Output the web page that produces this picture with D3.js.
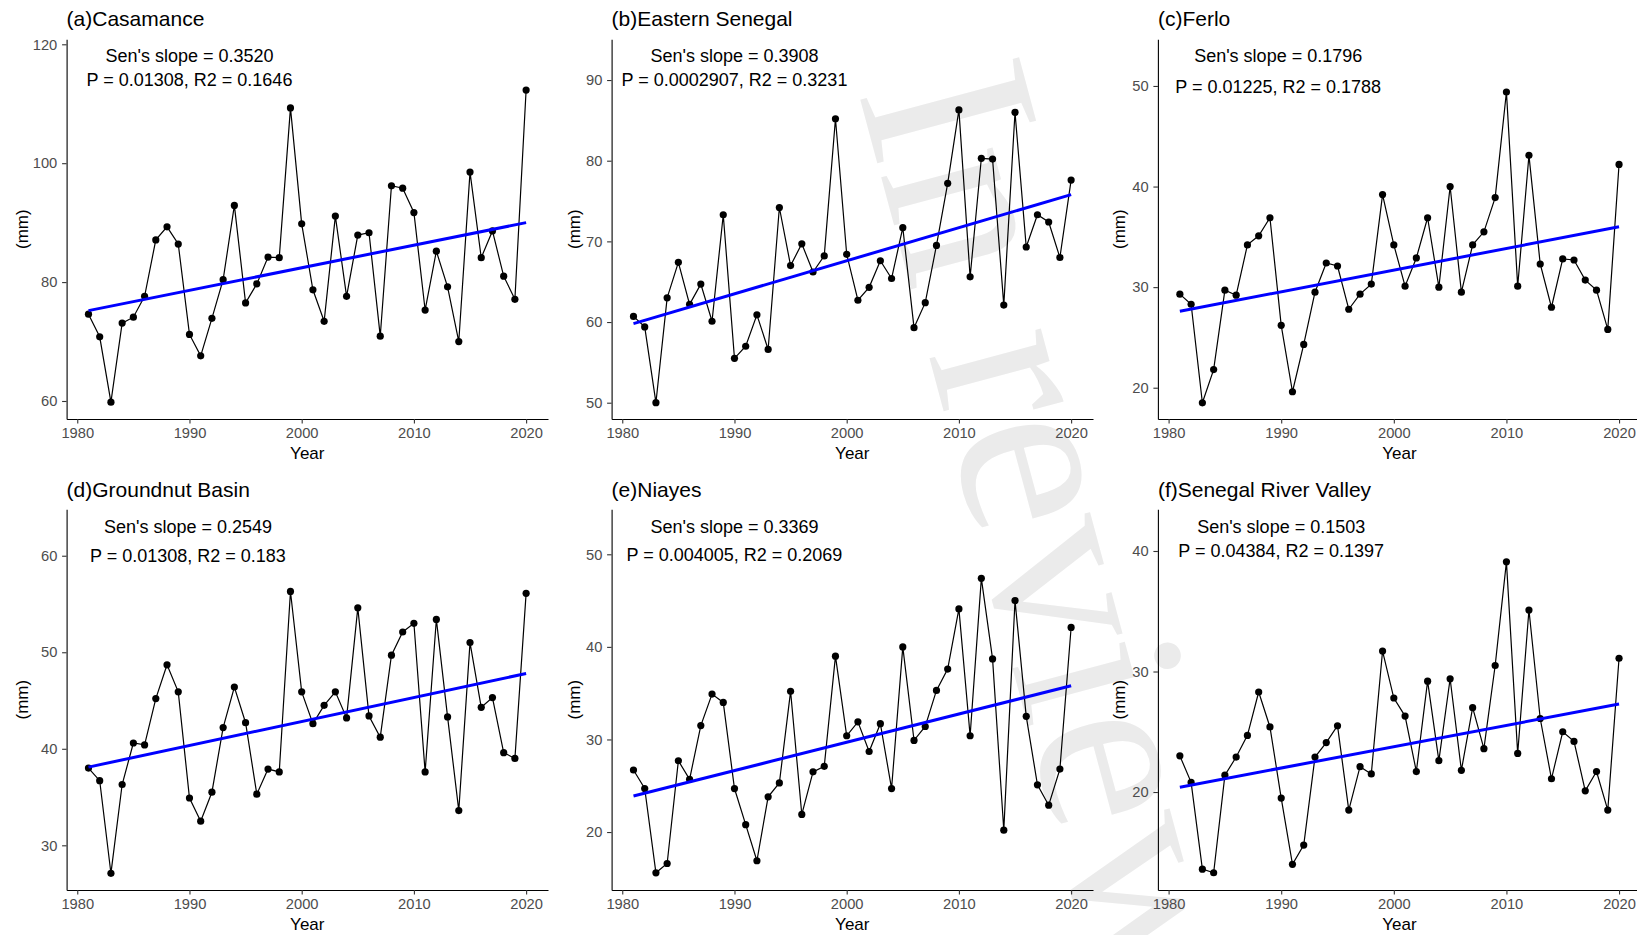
<!DOCTYPE html>
<html>
<head>
<meta charset="utf-8">
<script src="https://cdn.jsdelivr.net/npm/d3@7/dist/d3.min.js"></script>
<style>
  body { margin: 0; background: #fff; }
  text { font-family: "Liberation Sans", Arial, sans-serif; }
</style>
</head>
<body>
<script>
var years = [1981, 1982, 1983, 1984, 1985, 1986, 1987, 1988, 1989, 1990,
             1991, 1992, 1993, 1994, 1995, 1996, 1997, 1998, 1999, 2000,
             2001, 2002, 2003, 2004, 2005, 2006, 2007, 2008, 2009, 2010,
             2011, 2012, 2013, 2014, 2015, 2016, 2017, 2018, 2019, 2020];

var titles = ["(a)Casamance", "(b)Eastern Senegal", "(c)Ferlo",
              "(d)Groundnut Basin", "(e)Niayes", "(f)Senegal River Valley"];

var slopeLabels = ["Sen's slope = 0.3520", "Sen's slope = 0.3908", "Sen's slope = 0.1796",
                   "Sen's slope = 0.2549", "Sen's slope = 0.3369", "Sen's slope = 0.1503"];

var statLabels = ["P = 0.01308, R2 = 0.1646", "P = 0.0002907, R2 = 0.3231", "P = 0.01225, R2 = 0.1788",
                  "P = 0.01308, R2 = 0.183", "P = 0.004005, R2 = 0.2069", "P = 0.04384, R2 = 0.1397"];

var casamance = [74.6, 70.8, 59.8, 73.1, 74.1, 77.6, 87.1, 89.3, 86.4, 71.2,
                 67.6, 73.9, 80.4, 92.9, 76.5, 79.7, 84.2, 84.1, 109.3, 89.8,
                 78.7, 73.4, 91.1, 77.6, 87.9, 88.3, 70.9, 96.2, 95.8, 91.7,
                 75.3, 85.2, 79.2, 70.0, 98.5, 84.1, 88.6, 81.0, 77.1, 112.3];

var easternSenegal = [60.7, 59.4, 50.0, 63.0, 67.4, 62.2, 64.7, 60.1, 73.3, 55.5,
                      57.0, 60.9, 56.6, 74.2, 67.0, 69.7, 66.2, 68.2, 85.2, 68.4,
                      62.7, 64.3, 67.6, 65.4, 71.7, 59.3, 62.4, 69.5, 77.2, 86.3,
                      65.6, 80.3, 80.2, 62.1, 86.0, 69.3, 73.3, 72.4, 68.0, 77.6];

var ferlo = [29.3, 28.3, 18.5, 21.8, 29.7, 29.2, 34.2, 35.1, 36.9, 26.2,
             19.6, 24.3, 29.5, 32.4, 32.1, 27.8, 29.3, 30.3, 39.2, 34.2,
             30.1, 32.9, 36.9, 30.0, 40.0, 29.5, 34.2, 35.5, 38.9, 49.4,
             30.1, 43.1, 32.3, 28.0, 32.8, 32.7, 30.7, 29.7, 25.8, 42.2];

var groundnutBasin = [38.0, 36.7, 27.1, 36.3, 40.6, 40.4, 45.2, 48.7, 45.9, 34.9,
                      32.5, 35.5, 42.2, 46.4, 42.7, 35.3, 37.9, 37.6, 56.3, 45.9,
                      42.6, 44.5, 45.9, 43.2, 54.6, 43.4, 41.2, 49.7, 52.1, 53.0,
                      37.6, 53.4, 43.3, 33.6, 51.0, 44.3, 45.3, 39.6, 39.0, 56.1];

var niayes = [26.7, 24.7, 15.6, 16.6, 27.7, 25.7, 31.5, 34.9, 34.0, 24.7,
              20.8, 16.9, 23.8, 25.3, 35.2, 21.9, 26.5, 27.1, 39.0, 30.4,
              31.9, 28.7, 31.7, 24.7, 40.0, 29.9, 31.4, 35.3, 37.6, 44.1,
              30.4, 47.4, 38.7, 20.2, 45.0, 32.5, 25.1, 22.9, 26.8, 42.1];

var senegalRiverValley = [23.0, 20.8, 13.6, 13.3, 21.4, 22.9, 24.7, 28.3, 25.4, 19.5,
                          14.0, 15.6, 22.9, 24.1, 25.5, 18.5, 22.1, 21.5, 31.7, 27.8,
                          26.3, 21.7, 29.2, 22.6, 29.4, 21.8, 27.0, 23.6, 30.5, 39.1,
                          23.2, 35.1, 26.1, 21.1, 25.0, 24.2, 20.1, 21.7, 18.5, 31.1];

var series = [casamance, easternSenegal, ferlo, groundnutBasin, niayes, senegalRiverValley];

// fitted trend values at 1981 and 2020
var trendStart = [75.2, 59.8, 27.6, 38.1, 23.9, 20.4];
var trendEnd = [90.0, 75.8, 36.0, 47.8, 35.8, 27.3];

var yDomains = [[56.97, 120.84], [47.98, 95.05], [16.89, 54.64],
                [25.37, 64.81], [13.74, 54.86], [11.87, 43.46]];
var yTicks = [[60, 80, 100, 120], [50, 60, 70, 80, 90], [20, 30, 40, 50],
              [30, 40, 50, 60], [20, 30, 40, 50], [20, 30, 40]];
var xTicks = [1980, 1990, 2000, 2010, 2020];


var WIDTH = 1637,
    HEIGHT = 935;

var colLeft = [66.6, 611.6, 1157.9],
    colRight = [548, 1093, 1641],
    rowTop = [39.3, 509.3],
    rowBottom = [419, 890],
    titleY = [25.7, 496.5],
    ylabX = [22, 574, 1119.3];

var noteY1 = [22.7, 22.7, 22.7, 23.4, 23.4, 23.4],
    noteY2 = [46.7, 46.7, 53.4, 52.4, 51.7, 47.4],
    noteShift = [0, 0, -3, -1.5, 0, 0];

var svg = d3.select("body").append("svg")
      .attr("width", WIDTH)
      .attr("height", HEIGHT);

// watermark sits behind everything
svg.append("text")
  .attr("transform", "translate(858,91) rotate(75)")
  .style("font-family", "'Liberation Serif', 'Times New Roman', serif")
  .style("font-size", "251px")
  .style("fill", "#ebebeb")
  .text("In review");

series.forEach(function(values, i) {
  var col = i % 3,
      row = Math.floor(i / 3);

  var x = d3.scaleLinear()
      .domain([1979.05, 2021.95])
      .range([colLeft[col], colRight[col]]);

  var y = d3.scaleLinear()
      .domain(yDomains[i])
      .range([rowBottom[row], rowTop[row]]);

  var g = svg.append("g");

  var xAxis = g.append("g")
      .attr("transform", "translate(0," + rowBottom[row] + ")")
      .call(d3.axisBottom(x).tickValues(xTicks).tickFormat(d3.format("d"))
        .tickSize(4.5).tickSizeOuter(0).tickPadding(4.5));

  var yAxis = g.append("g")
      .attr("transform", "translate(" + colLeft[col] + ",0)")
      .call(d3.axisLeft(y).tickValues(yTicks[i])
        .tickSize(4.5).tickSizeOuter(0).tickPadding(4.8));

  [xAxis, yAxis].forEach(function(a) {
    a.select(".domain").attr("stroke", "#000").attr("stroke-width", 1.1);
    a.selectAll(".tick line").attr("stroke", "#333").attr("stroke-width", 1.1);
    a.selectAll(".tick text")
      .attr("fill", "#4d4d4d")
      .style("font-size", "14.7px")
      .style("font-family", "'Liberation Sans', Arial, sans-serif");
  });

  var pts = years.map(function(yr, k) { return [yr, values[k]]; });

  g.append("path")
    .datum(pts)
    .attr("fill", "none")
    .attr("stroke", "#000")
    .attr("stroke-width", 1.2)
    .attr("d", d3.line()
      .x(function(d) { return x(d[0]); })
      .y(function(d) { return y(d[1]); }));

  g.selectAll(".pt").data(pts).enter().append("circle")
    .attr("class", "pt")
    .attr("cx", function(d) { return x(d[0]); })
    .attr("cy", function(d) { return y(d[1]); })
    .attr("r", 3.6)
    .style("fill", "#000");

  g.append("line")
    .attr("x1", x(years[0]))
    .attr("y1", y(trendStart[i]))
    .attr("x2", x(years[years.length - 1]))
    .attr("y2", y(trendEnd[i]))
    .attr("stroke", "#0000ff")
    .attr("stroke-width", 3);

  g.append("text")
    .attr("x", colLeft[col])
    .attr("y", titleY[row])
    .style("font-size", "21px")
    .text(titles[i]);

  g.append("text")
    .attr("x", x(1990) + noteShift[i])
    .attr("y", rowTop[row] + noteY1[i])
    .attr("text-anchor", "middle")
    .style("font-size", "18px")
    .text(slopeLabels[i]);

  g.append("text")
    .attr("x", x(1990) + noteShift[i])
    .attr("y", rowTop[row] + noteY2[i])
    .attr("text-anchor", "middle")
    .style("font-size", "18px")
    .text(statLabels[i]);

  g.append("text")
    .attr("x", (colLeft[col] + colRight[col]) / 2)
    .attr("y", rowBottom[row] + 40)
    .attr("text-anchor", "middle")
    .style("font-size", "17px")
    .text("Year");

  g.append("text")
    .attr("transform", "translate(" + ylabX[col] + "," + (rowTop[row] + rowBottom[row]) / 2 + ") rotate(-90)")
    .attr("dy", "0.35em")
    .attr("text-anchor", "middle")
    .style("font-size", "17px")
    .text("(mm)");
});
</script>
</body>
</html>
